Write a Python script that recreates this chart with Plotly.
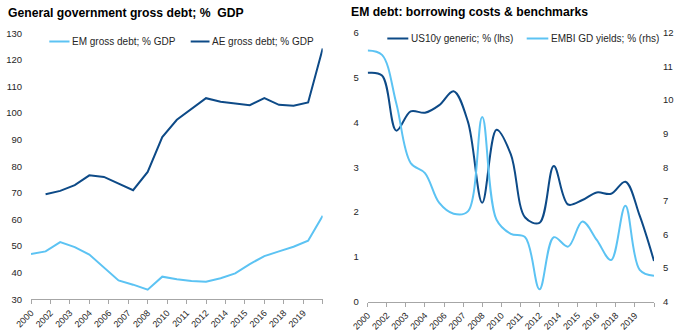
import plotly.graph_objects as go

# ---- data -------------------------------------------------------------
years = list(range(2000, 2021))

em_gross_debt = [47.0, 48.0, 51.5, 49.6, 46.8, 42.0, 37.1, 35.5, 33.6, 38.5,
                 37.5, 36.9, 36.6, 37.9, 39.75, 43.25, 46.25, 48.0, 49.75, 52.0, 61.4]
ae_gross_debt = [None, 69.5, 70.75, 72.9, 76.6, 76.0, 73.5, 71.0, 77.9, 91.0,
                 97.5, 101.6, 105.6, 104.25, 103.75, 103.0, 105.6, 103.1, 102.75, 104.0, 124.3]

us10y = [5.11, 5.05, 3.82, 4.25, 4.22, 4.39, 4.70, 4.02, 2.21, 3.84,
         3.29, 1.88, 1.76, 3.03, 2.17, 2.27, 2.44, 2.41, 2.68, 1.92, 0.91]
embi_gd = [11.48, 11.35, 9.9, 8.13, 7.83, 6.94, 6.62, 6.69, 9.5, 6.44,
           6.02, 5.92, 4.37, 5.92, 5.64, 6.39, 5.84, 5.24, 6.86, 4.95, 4.77]

tick_labels = ["2000", "2002", "2003", "2004", "2006", "2007", "2008", "2010",
               "2011", "2012", "2014", "2015", "2016", "2018", "2019", ""]

series_names = {
    "em": "EM gross debt; % GDP",
    "ae": "AE gross debt; % GDP",
    "us": "US10y generic; % (lhs)",
    "embi": "EMBI GD yields; % (rhs)",
}

# ---- styling ----------------------------------------------------------
W, H = 681, 336
DARK = "#0D4A87"
LIGHT = "#5CC3F3"
AXIS = "#A6A6A6"
TXT = "#262626"
FONT = "Liberation Sans, Arial, sans-serif"


def fx(p):
    return p / W


def fy(p):
    return 1 - p / H


n_ticks = len(tick_labels)
tick_vals = [years[0] + i * (years[-1] - years[0]) / (n_ticks - 1) for i in range(n_ticks)]

fig = go.Figure()

fig.add_trace(go.Scatter(x=years, y=em_gross_debt, name=series_names["em"], mode="lines",
                         line=dict(color=LIGHT, width=2), xaxis="x", yaxis="y",
                         showlegend=False))
fig.add_trace(go.Scatter(x=years, y=ae_gross_debt, name=series_names["ae"], mode="lines",
                         line=dict(color=DARK, width=2), xaxis="x", yaxis="y",
                         showlegend=False))
fig.add_trace(go.Scatter(x=years, y=embi_gd, name=series_names["embi"], mode="lines",
                         line=dict(color=LIGHT, width=2, shape="spline", smoothing=1),
                         xaxis="x2", yaxis="y3", showlegend=False))
fig.add_trace(go.Scatter(x=years, y=us10y, name=series_names["us"], mode="lines",
                         line=dict(color=DARK, width=2, shape="spline", smoothing=1),
                         xaxis="x2", yaxis="y2", showlegend=False))

xaxis_common = dict(
    range=[years[0], years[-1]], tickmode="array", tickvals=tick_vals, ticktext=tick_labels,
    tickangle=-45, showline=True, linecolor=AXIS, linewidth=1, ticks="outside",
    ticklen=4, tickcolor=AXIS, tickwidth=1, showgrid=False, zeroline=False,
    tickfont=dict(family=FONT, size=9, color=TXT), automargin=False,
)
yaxis_common = dict(
    showgrid=False, zeroline=False, showline=False, ticks="", automargin=False,
    tickfont=dict(family=FONT, size=9.5, color=TXT), ticklabelstandoff=8,
)

fig.update_layout(
    width=W, height=H, template="none",
    margin=dict(l=0, r=0, t=0, b=0),
    paper_bgcolor="white", plot_bgcolor="white",
    showlegend=False,
    font=dict(family=FONT, color=TXT),
    xaxis=dict(domain=[fx(31), fx(322.7)], anchor="y", **xaxis_common),
    yaxis=dict(domain=[fy(299.3), fy(33.3)], anchor="x", range=[30, 130], dtick=10,
               **yaxis_common),
    xaxis2=dict(domain=[fx(367.7), fx(654)], anchor="y2", **xaxis_common),
    yaxis2=dict(domain=[fy(301.7), fy(33)], anchor="x2", range=[0, 6], dtick=1,
                **yaxis_common),
    yaxis3=dict(overlaying="y2", anchor="x2", side="right", range=[4, 12], dtick=1,
                **yaxis_common),
)

annotations = [
    dict(text="<b>General government gross debt; %\u00a0 GDP</b>", x=fx(6), y=fy(13.5),
         xanchor="left", yanchor="middle", font=dict(size=12.2, color="#000000")),
    dict(text="<b>EM debt: borrowing costs & benchmarks</b>", x=fx(349), y=fy(12.5),
         xanchor="left", yanchor="middle", font=dict(size=12.2, color="#000000")),
]
shapes = []

# hand-placed legend entries: (line start, line end, y, colour, label)
legend_items = [
    (49.3, 69.5, 41.5, LIGHT, series_names["em"]),
    (190.7, 209.5, 41.5, DARK, series_names["ae"]),
    (387.3, 408.3, 38.5, DARK, series_names["us"]),
    (526.7, 548.3, 38.5, LIGHT, series_names["embi"]),
]
for x0, x1, yy, col, label in legend_items:
    shapes.append(dict(type="line", xref="paper", yref="paper", x0=fx(x0), x1=fx(x1),
                       y0=fy(yy), y1=fy(yy), line=dict(color=col, width=2)))
    annotations.append(dict(text=label, x=fx(x1 + 0.5), y=fy(yy), xanchor="left",
                            yanchor="middle", font=dict(size=10, color=TXT)))

for a in annotations:
    a.update(xref="paper", yref="paper", showarrow=False)

fig.update_layout(annotations=annotations, shapes=shapes)

fig.write_html("out.html")
